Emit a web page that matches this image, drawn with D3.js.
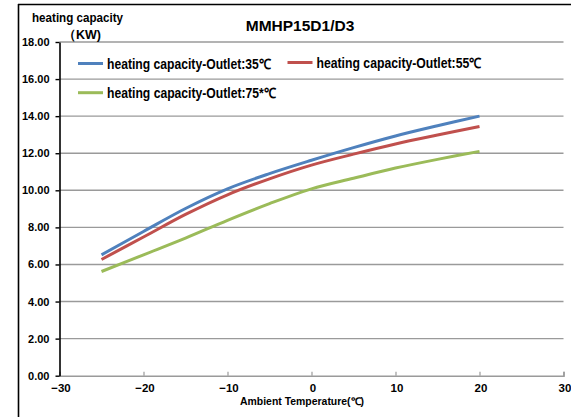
<!DOCTYPE html>
<html>
<head>
<meta charset="utf-8">
<script src="https://cdn.jsdelivr.net/npm/d3@7"></script>
<style>
  html, body { margin: 0; padding: 0; background: #fff; }
  svg { display: block; }
  text { font-family: "Liberation Sans", Arial, sans-serif; fill: #000; }
</style>
</head>
<body>
<div id="chart"></div>
<script>
// ---- data ----
const temps = [-25, -20, -15, -10, -5, 0, 5, 10, 15, 20];
const outlet35 = [6.52, 7.78, 9.02, 10.08, 10.90, 11.62, 12.30, 12.93, 13.48, 14.00];
const outlet55 = [6.27, 7.48, 8.70, 9.76, 10.62, 11.36, 11.95, 12.50, 12.98, 13.44];
const outlet75 = [5.62, 6.52, 7.42, 8.38, 9.28, 10.08, 10.65, 11.20, 11.67, 12.10];
const seriesNames = ["heating capacity-Outlet:35\u2103", "heating capacity-Outlet:55\u2103", "heating capacity-Outlet:75*\u2103"];
const seriesColors = ["#4F81BD", "#C0504D", "#9BBB59"];
const xTicks = [-30, -20, -10, 0, 10, 20, 30];
const yTicks = [0, 2, 4, 6, 8, 10, 12, 14, 16, 18];
const title = "MMHP15D1/D3";
const yTitle1 = "heating capacity";
const yTitle2 = "\uFF08KW)";
const xTitle = "Ambient Temperature(\u2103)";

const W = 571, H = 417;
const svg = d3.select("#chart").append("svg").attr("width", W).attr("height", H);

// outer frame (left and top edges visible)
svg.append("line").attr("x1", 18.5).attr("x2", 18.5).attr("y1", 4).attr("y2", H)
  .attr("stroke", "#000").attr("stroke-width", 1.6);
svg.append("line").attr("x1", 18).attr("x2", W).attr("y1", 4.5).attr("y2", 4.5)
  .attr("stroke", "#000").attr("stroke-width", 1.6);

const x = d3.scaleLinear().domain([-30, 30]).range([59.5, 563.5]);
const y = d3.scaleLinear().domain([0, 18]).range([375.7, 42]);

// gridlines
svg.append("g").selectAll("line").data(yTicks.filter(d => d > 0)).join("line")
  .attr("x1", x(-30)).attr("x2", x(30))
  .attr("y1", d => y(d)).attr("y2", d => y(d))
  .attr("stroke", "#9a9a9a").attr("stroke-width", 1.4);

// x axis (gray, ticks upward)
const xAxis = svg.append("g").attr("transform", `translate(0,${y(0)})`)
  .call(d3.axisTop(x).tickValues(xTicks).tickSize(4).tickFormat(""));
xAxis.select(".domain").attr("stroke", "#9a9a9a").attr("stroke-width", 1.6);
xAxis.selectAll(".tick line").attr("stroke", "#9a9a9a").attr("stroke-width", 1.2);

svg.append("g").selectAll("text").data(xTicks).join("text")
  .attr("x", d => x(d) + 1.5).attr("y", 392)
  .attr("text-anchor", "middle")
  .attr("font-size", 11.5).attr("font-weight", "bold")
  .text(d => d < 0 ? "\u2212" + Math.abs(d) : d);

// y axis (black, ticks left)
const yAxis = svg.append("g").attr("transform", `translate(${x(-30)},0)`)
  .call(d3.axisLeft(y).tickValues(yTicks).tickSize(4).tickSizeOuter(0).tickPadding(6)
    .tickFormat(d3.format(".2f")));
yAxis.select(".domain").attr("stroke", "#000").attr("stroke-width", 1.6);
yAxis.selectAll(".tick line").attr("stroke", "#000").attr("stroke-width", 1.4);
yAxis.selectAll(".tick text")
  .attr("font-size", 11).attr("font-weight", "bold")
  .attr("font-family", "\"Liberation Sans\", Arial, sans-serif").attr("fill", "#000");

// lines
const allSeries = [outlet35, outlet55, outlet75];
const line = d3.line().x(d => x(d[0])).y(d => y(d[1])).curve(d3.curveCatmullRom.alpha(0.5));
allSeries.forEach((vals, i) => {
  svg.append("path")
    .datum(temps.map((t, j) => [t, vals[j]]))
    .attr("fill", "none")
    .attr("stroke", seriesColors[i])
    .attr("stroke-width", 3)
    .attr("stroke-linejoin", "round")
    .attr("d", line);
});

// title
svg.append("text").attr("x", 300).attr("y", 31).attr("text-anchor", "middle")
  .attr("font-size", 15.5).attr("font-weight", "bold").text(title);

// y title
svg.append("text").attr("x", 32).attr("y", 22).attr("font-size", 12.5)
  .attr("font-weight", "bold").attr("textLength", 91).attr("lengthAdjust", "spacingAndGlyphs").text(yTitle1);
svg.append("text").attr("x", 63).attr("y", 39).attr("font-size", 12.5)
  .attr("font-weight", "bold").text(yTitle2);

// x title
svg.append("text").attr("x", 302).attr("y", 405).attr("text-anchor", "middle")
  .attr("font-size", 10.5).attr("font-weight", "bold")
  .attr("textLength", 124).attr("lengthAdjust", "spacingAndGlyphs").text(xTitle);

// legend
const legendPos = [
  {lx: 78, ly: 63.5, tl: 164},
  {lx: 287.5, ly: 62.5, tl: 165},
  {lx: 78, ly: 92.7, tl: 169}
];
legendPos.forEach((p, i) => {
  svg.append("line").attr("x1", p.lx).attr("x2", p.lx + 25)
    .attr("y1", p.ly).attr("y2", p.ly)
    .attr("stroke", seriesColors[i]).attr("stroke-width", 3);
  svg.append("text").attr("x", p.lx + 29).attr("y", p.ly + 5)
    .attr("font-size", 14).attr("font-weight", "bold")
    .attr("textLength", p.tl).attr("lengthAdjust", "spacingAndGlyphs")
    .text(seriesNames[i]);
});
</script>
</body>
</html>
